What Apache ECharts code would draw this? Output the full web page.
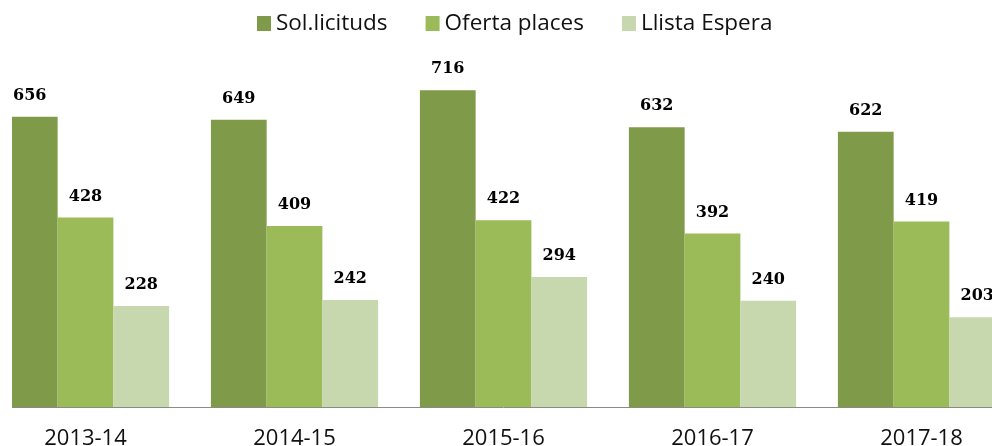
<!DOCTYPE html>
<html>
<head>
<meta charset="utf-8">
<script src="https://cdn.jsdelivr.net/npm/echarts@6/dist/echarts.min.js"></script>
<style>
  html, body { margin: 0; padding: 0; background: #fff; overflow: hidden; }
  /* the plot is wider than the window: it is cut on both sides */
  #main { width: 1045px; height: 446px; position: relative; left: -19px; }
</style>
</head>
<body>
<div id="main"></div>
<script>
var years = ['2013-14', '2014-15', '2015-16', '2016-17', '2017-18'];
var solicituds = [656, 649, 716, 632, 622];
var oferta = [428, 409, 422, 392, 419];
var espera = [228, 242, 294, 240, 203];

var myChart = echarts.init(document.getElementById('main'));

var labelStyle = {
  show: true,
  position: 'top',
  distance: 13,
  color: '#000',
  fontFamily: 'DejaVu Serif',
  fontWeight: 'bold',
  fontSize: 16
};

var option = {
  animation: false,
  legend: {
    left: 276,
    top: 12,
    padding: 0,
    itemWidth: 14,
    itemHeight: 15,
    itemGap: 38,
    icon: 'rect',
    textStyle: { fontFamily: 'Open Sans', fontSize: 22.5, color: '#111', lineHeight: 22 }
  },
  grid: { left: 0, right: 0, top: 53, bottom: 39, outerBoundsMode: 'none' },
  xAxis: {
    type: 'category',
    data: years,
    axisLine: { lineStyle: { color: '#8a8a8a', width: 1 } },
    axisTick: { show: false },
    axisLabel: { fontFamily: 'Open Sans', fontSize: 22, color: '#111', margin: 21, lineHeight: 22 }
  },
  yAxis: {
    type: 'value',
    min: 0,
    max: 800,
    show: false,
    splitLine: { show: false }
  },
  series: [
    { name: 'Sol.licituds', type: 'bar', data: solicituds, barGap: 0, barCategoryGap: '20%',
      itemStyle: { color: '#7f9a48' }, label: labelStyle },
    { name: 'Oferta places', type: 'bar', data: oferta, barGap: 0, barCategoryGap: '20%',
      itemStyle: { color: '#9bbb59' }, label: labelStyle },
    { name: 'Llista Espera', type: 'bar', data: espera, barGap: 0, barCategoryGap: '20%',
      itemStyle: { color: '#c7d7ae' }, label: labelStyle }
  ],
  graphic: [
    // the plot area starts at x=12 of the window, the first bar is cut there
    { type: 'rect', left: 0, top: 60, z: 100, shape: { width: 31, height: 386 }, style: { fill: '#fff' } }
  ]
};

myChart.setOption(option);
</script>
</body>
</html>
